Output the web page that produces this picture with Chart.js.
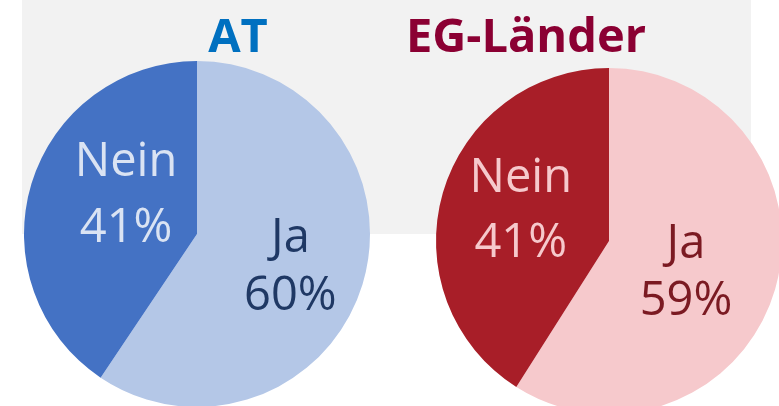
<!DOCTYPE html>
<html>
<head>
<meta charset="utf-8">
<script src="https://cdn.jsdelivr.net/npm/chart.js@4/dist/chart.umd.min.js"></script>
<style>
  html, body { margin: 0; padding: 0; background: #fff; }
  body { width: 779px; height: 406px; overflow: hidden; position: relative; }
  #band { position: absolute; left: 22px; top: 0; width: 729px; height: 234px; background: #f2f2f2; }
  .pie { position: absolute; top: 0; }
</style>
</head>
<body>
<div id="band"></div>
<canvas id="chartAT" class="pie" style="left:0px" width="390" height="410"></canvas>
<canvas id="chartEG" class="pie" style="left:390px" width="400" height="420"></canvas>
<script>
const categories = ["Ja", "Nein"];
const valuesAT = [60, 41];
const valuesEG = [59, 41];
const titles = ["AT", "EG-Länder"];

// draws the big title and the two-line labels inside each slice
const pieText = {
  id: "pieText",
  afterDatasetsDraw(chart, args, opts) {
    const ctx = chart.ctx;
    const arcs = chart.getDatasetMeta(0).data;
    const values = chart.data.datasets[0].data;
    ctx.save();
    ctx.textAlign = "center";
    ctx.textBaseline = "alphabetic";
    ctx.font = "bold 47px 'Open Sans'";
    ctx.fillStyle = opts.titleColor;
    ctx.fillText(opts.title, opts.titleX, 52);

    ctx.font = "47px 'Open Sans'";
    arcs.forEach((arc, i) => {
      const r = arc.outerRadius;
      const pos = opts.labelPos[i];
      const x = arc.x + pos.fx * r;
      const y = arc.y + pos.fy * r;
      ctx.fillStyle = opts.labelColors[i];
      ctx.fillText(chart.data.labels[i], x, y);
      ctx.fillText(values[i] + "%", x, y + pos.gap);
    });
    ctx.restore();
  },
};

function makePie(id, values, colors, pad, textOpts) {
  return new Chart(document.getElementById(id), {
    type: "pie",
    data: {
      labels: categories,
      datasets: [
        {
          data: values,
          backgroundColor: colors,
          borderWidth: 0,
          hoverOffset: 0,
        },
      ],
    },
    options: {
      responsive: false,
      animation: false,
      radius: 173,
      layout: { padding: pad },
      plugins: {
        legend: { display: false },
        tooltip: { enabled: false },
        pieText: textOpts,
      },
    },
    plugins: [pieText],
  });
}

makePie("chartAT", valuesAT, ["#b4c7e7", "#4472c4"],
  { left: 24, right: 20, top: 61, bottom: 3 },
  {
    title: titles[0],
    titleX: 238,
    titleColor: "#0070c0",
    labelColors: ["#1f3864", "#dae3f3"],
    labelPos: [
      { fx: 0.54, fy: 0.104, gap: 58 },
      { fx: -0.41, fy: -0.335, gap: 66 },
    ],
  });

makePie("chartEG", valuesEG, ["#f6c9cc", "#a81e28"],
  { left: 46, right: 8, top: 68, bottom: 6 },
  {
    title: titles[1],
    titleX: 136,
    titleColor: "#8b0033",
    labelColors: ["#7b1a22", "#f6c9cc"],
    labelPos: [
      { fx: 0.445, fy: 0.098, gap: 57 },
      { fx: -0.51, fy: -0.283, gap: 65 },
    ],
  });
</script>
</body>
</html>
